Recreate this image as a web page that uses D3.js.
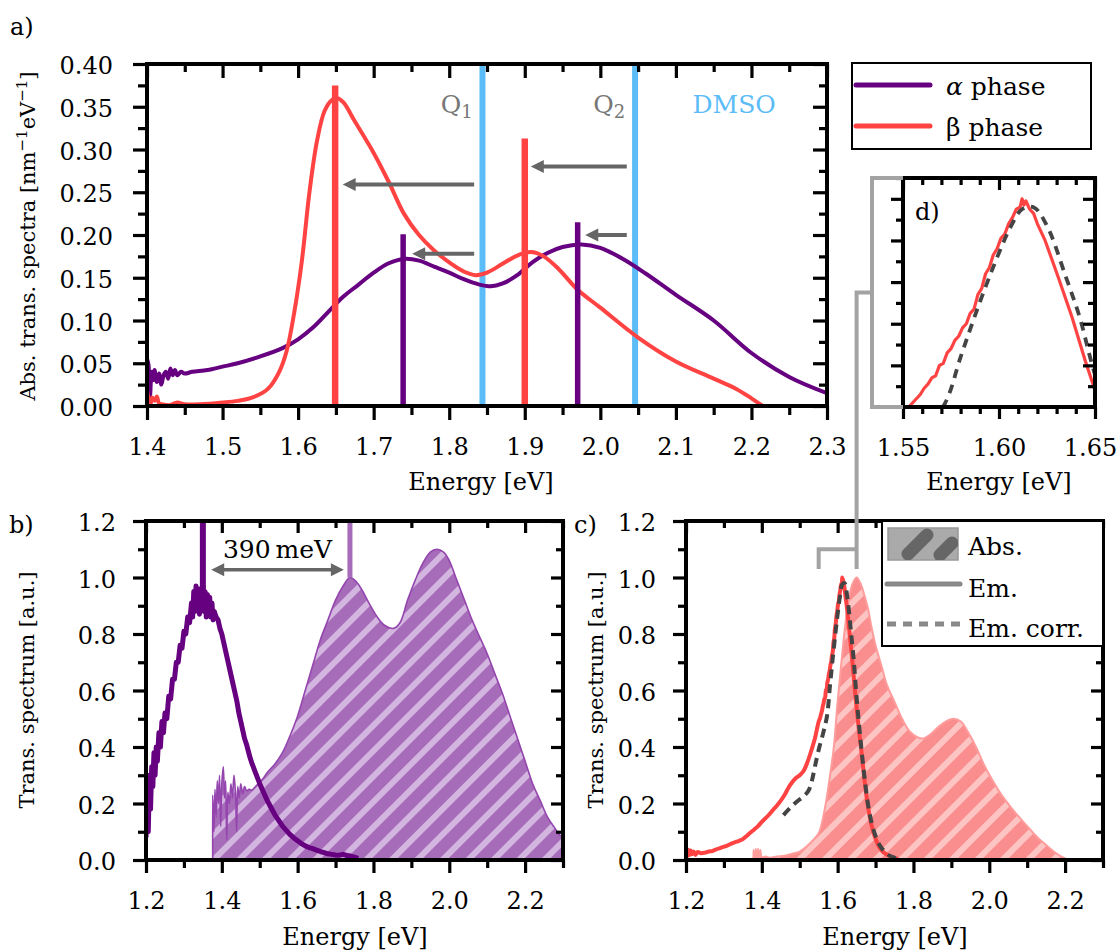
<!DOCTYPE html>
<html><head><meta charset="utf-8">
<script src="https://cdn.jsdelivr.net/npm/d3@7"></script>
<style>body{margin:0;background:#fff}svg{display:block}</style>
</head><body><svg id="chart" width="1117" height="952"></svg>
<script>
// ---------------- DATA ----------------
// Panel a: absolute transition spectra [E (eV), value]
const alphaAbsA = [[1.400,0.055],[1.402,0.048],[1.404,0.012],[1.406,0.040],[1.408,0.030],[1.410,0.042],[1.413,0.028],[1.416,0.038],[1.419,0.025],[1.422,0.036],[1.425,0.040],[1.428,0.032],[1.431,0.044],[1.434,0.036],[1.437,0.042],[1.440,0.036],[1.445,0.040],[1.450,0.038],[1.460,0.040],[1.480,0.042],[1.500,0.046],[1.520,0.050],[1.550,0.058],[1.580,0.068],[1.600,0.078],[1.620,0.092],[1.640,0.110],[1.660,0.128],[1.680,0.142],[1.700,0.156],[1.720,0.167],[1.740,0.172],[1.760,0.170],[1.780,0.163],[1.800,0.156],[1.820,0.148],[1.840,0.142],[1.855,0.140],[1.870,0.143],[1.890,0.153],[1.910,0.168],[1.930,0.179],[1.950,0.186],[1.975,0.189],[2.000,0.185],[2.030,0.172],[2.060,0.155],[2.100,0.130],[2.150,0.100],[2.200,0.062],[2.250,0.034],[2.300,0.015]];
const betaAbsA = [[1.400,0.018],[1.402,0.008],[1.404,0.000],[1.407,0.010],[1.410,0.006],[1.413,0.011],[1.416,0.003],[1.420,0.002],[1.430,0.001],[1.440,0.004],[1.450,0.002],[1.470,0.002],[1.500,0.004],[1.520,0.006],[1.540,0.010],[1.560,0.020],[1.575,0.040],[1.585,0.065],[1.595,0.110],[1.605,0.170],[1.615,0.250],[1.625,0.310],[1.635,0.345],[1.645,0.358],[1.652,0.360],[1.660,0.355],[1.675,0.333],[1.700,0.296],[1.720,0.262],[1.740,0.225],[1.760,0.200],[1.780,0.182],[1.800,0.168],[1.820,0.157],[1.835,0.153],[1.850,0.156],[1.870,0.166],[1.890,0.176],[1.908,0.180],[1.925,0.175],[1.945,0.160],[1.970,0.136],[2.000,0.115],[2.050,0.080],[2.100,0.052],[2.150,0.032],[2.180,0.020],[2.200,0.009],[2.215,0.000]];
const alphaBarsA = [[1.739,0.201],[1.970,0.215]];
const betaBarsA = [[1.649,0.375],[1.900,0.313]];
const dmsoLinesA = [1.844, 2.046];
// arrows: [from E, to E, height]
const shiftArrowsA = [[1.833,1.659,0.259],[1.833,1.751,0.178],[2.035,1.908,0.280],[2.035,1.980,0.200]];
const aXTicks = [1.4,1.5,1.6,1.7,1.8,1.9,2.0,2.1,2.2,2.3];
const aXTickLabels = ["1.4","1.5","1.6","1.7","1.8","1.9","2.0","2.1","2.2","2.3"];
const aXMinor = [1.45,1.55,1.65,1.75,1.85,1.95,2.05,2.15,2.25];
const aYTicks = [0,0.05,0.10,0.15,0.20,0.25,0.30,0.35,0.40];
const aYTickLabels = ["0.00","0.05","0.10","0.15","0.20","0.25","0.30","0.35","0.40"];
const aYMinor = [0.025,0.075,0.125,0.175,0.225,0.275,0.325,0.375];

// Panel b: alpha phase emission and absorption (normalised)
const alphaEmB = [[1.200,0.08],[1.203,0.22],[1.206,0.10],[1.209,0.30],[1.212,0.18],[1.215,0.33],[1.218,0.26],[1.221,0.38],[1.224,0.30],[1.227,0.40],[1.230,0.35],[1.234,0.45],[1.238,0.40],[1.242,0.49],[1.246,0.45],[1.250,0.52],[1.255,0.50],[1.260,0.58],[1.265,0.57],[1.270,0.64],[1.275,0.64],[1.280,0.70],[1.285,0.70],[1.290,0.76],[1.295,0.75],[1.300,0.81],[1.305,0.80],[1.310,0.86],[1.315,0.84],[1.320,0.91],[1.323,0.86],[1.326,0.95],[1.329,0.88],[1.332,0.97],[1.335,0.89],[1.338,0.95],[1.341,0.87],[1.344,0.96],[1.347,0.90],[1.350,0.97],[1.353,0.88],[1.356,0.95],[1.359,0.86],[1.362,0.94],[1.365,0.87],[1.368,0.93],[1.371,0.86],[1.374,0.91],[1.377,0.85],[1.380,0.88],[1.385,0.86],[1.390,0.85],[1.395,0.82],[1.400,0.80],[1.405,0.77],[1.410,0.74],[1.415,0.71],[1.420,0.68],[1.425,0.65],[1.430,0.62],[1.435,0.59],[1.440,0.56],[1.445,0.52],[1.450,0.49],[1.455,0.46],[1.460,0.43],[1.465,0.41],[1.470,0.385],[1.475,0.36],[1.480,0.34],[1.490,0.305],[1.500,0.27],[1.510,0.24],[1.520,0.21],[1.530,0.185],[1.540,0.16],[1.550,0.14],[1.560,0.12],[1.570,0.105],[1.580,0.09],[1.590,0.078],[1.600,0.068],[1.610,0.058],[1.620,0.050],[1.630,0.044],[1.640,0.040],[1.650,0.035],[1.660,0.030],[1.670,0.026],[1.680,0.022],[1.690,0.020],[1.700,0.018],[1.710,0.017],[1.720,0.020],[1.730,0.016],[1.740,0.014],[1.750,0.010],[1.760,0.006]];
const alphaAbsB = [[1.376,0.00],[1.376,0.23],[1.379,0.10],[1.382,0.25],[1.385,0.15],[1.388,0.28],[1.391,0.20],[1.394,0.30],[1.397,0.12],[1.400,0.27],[1.404,0.33],[1.407,0.22],[1.410,0.28],[1.413,0.07],[1.416,0.24],[1.420,0.20],[1.424,0.27],[1.428,0.22],[1.432,0.30],[1.436,0.24],[1.439,0.10],[1.442,0.26],[1.446,0.22],[1.450,0.27],[1.455,0.235],[1.460,0.26],[1.466,0.245],[1.472,0.25],[1.480,0.248],[1.490,0.262],[1.500,0.275],[1.510,0.29],[1.520,0.31],[1.540,0.34],[1.560,0.38],[1.580,0.44],[1.600,0.51],[1.620,0.60],[1.640,0.69],[1.660,0.78],[1.680,0.85],[1.700,0.92],[1.720,0.97],[1.738,1.00],[1.755,0.985],[1.770,0.955],[1.790,0.905],[1.810,0.86],[1.830,0.83],[1.853,0.82],[1.870,0.84],[1.890,0.92],[1.910,0.99],[1.930,1.05],[1.950,1.09],[1.967,1.10],[1.985,1.09],[2.000,1.06],[2.020,0.99],[2.040,0.92],[2.060,0.85],[2.080,0.79],[2.100,0.73],[2.120,0.66],[2.140,0.59],[2.160,0.51],[2.180,0.43],[2.200,0.35],[2.220,0.27],[2.240,0.21],[2.260,0.15],[2.280,0.11],[2.290,0.09],[2.300,0.08],[2.300,0.00]];
const alphaPeaksB = [[1.350,0.90],[1.738,1.00]];   // emission max, absorption max
const stokesArrowB = [1.372, 1.722, 1.027];
const bcXTicks = [1.2,1.4,1.6,1.8,2.0,2.2];
const bcXTickLabels = ["1.2","1.4","1.6","1.8","2.0","2.2"];
const bcXMinor = [1.3,1.5,1.7,1.9,2.1,2.3];
const bcYTicks = [0,0.2,0.4,0.6,0.8,1.0,1.2];
const bcYTickLabels = ["0.0","0.2","0.4","0.6","0.8","1.0","1.2"];
const bcYMinor = [0.1,0.3,0.5,0.7,0.9,1.1];

// Panel c: beta phase
const betaAbsC = [[1.378,0.00],[1.378,0.035],[1.381,0.000],[1.384,0.040],[1.387,0.000],[1.390,0.040],[1.393,0.005],[1.396,0.035],[1.400,0.010],[1.410,0.012],[1.420,0.008],[1.430,0.010],[1.440,0.012],[1.460,0.015],[1.480,0.022],[1.500,0.030],[1.520,0.050],[1.535,0.070],[1.550,0.095],[1.560,0.140],[1.570,0.210],[1.580,0.300],[1.590,0.400],[1.600,0.560],[1.610,0.700],[1.620,0.830],[1.630,0.930],[1.640,0.980],[1.650,1.000],[1.660,0.980],[1.670,0.940],[1.680,0.890],[1.690,0.820],[1.700,0.760],[1.715,0.690],[1.730,0.620],[1.750,0.560],[1.770,0.500],[1.790,0.455],[1.810,0.435],[1.826,0.430],[1.845,0.445],[1.865,0.470],[1.885,0.490],[1.905,0.500],[1.925,0.490],[1.945,0.450],[1.965,0.400],[1.985,0.340],[2.005,0.290],[2.030,0.235],[2.055,0.190],[2.080,0.150],[2.100,0.120],[2.120,0.090],[2.145,0.058],[2.170,0.030],[2.190,0.012],[2.210,0.000]];
const betaEmC = [[1.200,0.030],[1.203,0.012],[1.206,0.036],[1.209,0.018],[1.212,0.034],[1.215,0.020],[1.220,0.030],[1.225,0.018],[1.230,0.028],[1.240,0.024],[1.250,0.026],[1.260,0.030],[1.270,0.032],[1.280,0.038],[1.290,0.042],[1.300,0.047],[1.310,0.052],[1.320,0.058],[1.330,0.063],[1.340,0.068],[1.350,0.074],[1.360,0.085],[1.370,0.097],[1.380,0.108],[1.390,0.120],[1.400,0.135],[1.410,0.148],[1.420,0.162],[1.430,0.178],[1.440,0.193],[1.450,0.210],[1.460,0.230],[1.470,0.255],[1.480,0.275],[1.490,0.290],[1.500,0.300],[1.510,0.315],[1.520,0.345],[1.530,0.385],[1.540,0.430],[1.550,0.490],[1.553,0.500],[1.556,0.515],[1.559,0.530],[1.561,0.545],[1.563,0.555],[1.565,0.570],[1.567,0.575],[1.569,0.600],[1.571,0.605],[1.573,0.630],[1.575,0.640],[1.577,0.660],[1.579,0.670],[1.581,0.690],[1.583,0.700],[1.585,0.725],[1.587,0.735],[1.589,0.770],[1.591,0.785],[1.593,0.820],[1.595,0.835],[1.597,0.865],[1.599,0.880],[1.601,0.905],[1.603,0.915],[1.605,0.940],[1.607,0.955],[1.609,0.975],[1.611,0.980],[1.612,1.000],[1.613,0.985],[1.614,0.995],[1.616,0.975],[1.618,0.965],[1.620,0.940],[1.624,0.900],[1.631,0.810],[1.638,0.716],[1.645,0.610],[1.650,0.540],[1.657,0.450],[1.664,0.370],[1.672,0.270],[1.680,0.190],[1.690,0.120],[1.700,0.075],[1.710,0.045],[1.720,0.028],[1.735,0.015],[1.750,0.007],[1.760,0.003]];
const betaEmCorrC = [[1.457,0.159],[1.475,0.185],[1.492,0.206],[1.510,0.225],[1.523,0.245],[1.532,0.280],[1.540,0.330],[1.550,0.390],[1.562,0.450],[1.572,0.510],[1.580,0.620],[1.588,0.726],[1.597,0.836],[1.606,0.932],[1.612,0.975],[1.618,0.980],[1.625,0.935],[1.635,0.810],[1.642,0.716],[1.648,0.610],[1.655,0.500],[1.663,0.390],[1.672,0.280],[1.681,0.190],[1.690,0.130],[1.700,0.085],[1.712,0.050],[1.725,0.028],[1.740,0.013],[1.760,0.004]];
const zoomRangeC = [1.55, 1.65, 1.10, 1.03];

// Panel d ticks
const dXTicks = [1.55,1.60,1.65];
const dXTickLabels = ["1.55","1.60","1.65"];
const dXMinor = [1.56,1.57,1.58,1.59,1.61,1.62,1.63,1.64];
const dYTicks = [0.6,0.7,0.8,0.9,1.0];
const dYMinor = [0.55,0.65,0.75,0.85,0.95,1.05];

// ---------------- STYLE ----------------
const FONT = '"DejaVu Serif", "Liberation Serif", serif';
const PURPLE = '#660080', RED = '#ff4343', BLUE = '#5bbcf8', ARROW = '#666666', BRK = '#a3a3a3';
const SMOOTH = d3.curveCatmullRom.alpha(0.5);

const svg = d3.select('#chart');
const defs = svg.append('defs');

function hatch(id, base, stripe) {
  const p = defs.append('pattern').attr('id', id).attr('patternUnits', 'userSpaceOnUse')
    .attr('width', 18).attr('height', 18).attr('patternTransform', 'rotate(45)');
  p.append('rect').attr('width', 18).attr('height', 18).attr('fill', base);
  p.append('rect').attr('width', 6).attr('height', 18).attr('fill', stripe);
}
hatch('hatchB', '#a76cb9', '#d3b6df');
hatch('hatchC', '#fa8e8e', '#fdc4c4');

function clipFor(id, x, y) {
  const [x0, x1] = x.range(), [y0, y1] = y.range();
  defs.append('clipPath').attr('id', id).append('rect')
    .attr('x', x0).attr('y', y1).attr('width', x1 - x0).attr('height', y0 - y1);
}

function drawAxes(g, x, y, o) {
  const [xl, xr] = x.range(), [yb, yt] = y.range();
  const none = () => '';
  const style = sel => {
    sel.select('.domain').remove();
    sel.selectAll('line').attr('stroke', '#000').attr('stroke-width', 3.2);
    sel.attr('font-family', FONT).attr('font-size', 24);
    sel.selectAll('text').attr('fill', '#000');
  };
  const xb = g.append('g').attr('transform', `translate(0,${yb})`)
    .call(d3.axisBottom(x).tickValues(o.xMaj).tickSize(o.outMaj).tickPadding(o.xPad)
      .tickFormat(o.xLab ? (d, i) => o.xLab[i] : none)).call(style);
  if (o.lastDx) xb.selectAll('text').filter((d, i) => i === o.xMaj.length - 1).attr('dx', o.lastDx);
  g.append('g').attr('transform', `translate(0,${yb})`)
    .call(d3.axisBottom(x).tickValues(o.xMin).tickSize(o.outMin).tickFormat(none)).call(style);
  g.append('g').attr('transform', `translate(0,${yt})`)
    .call(d3.axisTop(x).tickValues(o.xMaj).tickSize(-o.inMaj).tickFormat(none)).call(style);
  g.append('g').attr('transform', `translate(0,${yt})`)
    .call(d3.axisTop(x).tickValues(o.xMin).tickSize(-o.inMin).tickFormat(none)).call(style);
  g.append('g').attr('transform', `translate(${xl},0)`)
    .call(d3.axisLeft(y).tickValues(o.yMaj).tickSize(o.outMaj).tickPadding(o.yPad)
      .tickFormat(o.yLab ? (d, i) => o.yLab[i] : none)).call(style)
    .selectAll('text').attr('dy', '0.40em');
  g.append('g').attr('transform', `translate(${xl},0)`)
    .call(d3.axisLeft(y).tickValues(o.yMin).tickSize(o.outMin).tickFormat(none)).call(style);
  g.append('g').attr('transform', `translate(${xr},0)`)
    .call(d3.axisRight(y).tickValues(o.yMaj).tickSize(-o.inMaj).tickFormat(none)).call(style);
  g.append('g').attr('transform', `translate(${xr},0)`)
    .call(d3.axisRight(y).tickValues(o.yMin).tickSize(-o.inMin).tickFormat(none)).call(style);
  g.append('rect').attr('x', xl).attr('y', yt).attr('width', xr - xl).attr('height', yb - yt)
    .attr('fill', 'none').attr('stroke', '#000').attr('stroke-width', 4);
}

function txt(g, x, y, s, size, anchor, fill) {
  return g.append('text').attr('x', x).attr('y', y).text(s)
    .attr('font-family', FONT).attr('font-size', size || 24)
    .attr('text-anchor', anchor || 'start').attr('fill', fill || '#000');
}

function arrowLeft(g, x1, x2, y, col) {
  const hl = 13, hw = 6.5;
  g.append('line').attr('x1', x1).attr('x2', x2 + hl - 1).attr('y1', y).attr('y2', y)
    .attr('stroke', col).attr('stroke-width', 4);
  g.append('path').attr('d', `M${x2},${y}L${x2 + hl},${y - hw}L${x2 + hl},${y + hw}Z`).attr('fill', col);
}
function arrowRight(g, x1, x2, y, col) {
  const hl = 13, hw = 6.5;
  g.append('path').attr('d', `M${x2},${y}L${x2 - hl},${y - hw}L${x2 - hl},${y + hw}Z`).attr('fill', col);
}

// ---------------- PANEL A ----------------
const ax = d3.scaleLinear().domain([1.4, 2.3]).range([147, 827]);
const ay = d3.scaleLinear().domain([0, 0.4]).range([406, 64]);
clipFor('clipA', ax, ay);
const ga = svg.append('g');
const pa = ga.append('g').attr('clip-path', 'url(#clipA)');
pa.selectAll('line.dmso').data(dmsoLinesA).join('line').attr('class', 'dmso')
  .attr('x1', d => ax(d)).attr('x2', d => ax(d)).attr('y1', ay(0)).attr('y2', ay(0.4))
  .attr('stroke', BLUE).attr('stroke-width', 6);
const lineA = d3.line().curve(SMOOTH).x(d => ax(d[0])).y(d => ay(d[1]));
pa.append('path').datum(alphaAbsA).attr('d', lineA).attr('fill', 'none')
  .attr('stroke', PURPLE).attr('stroke-width', 4).attr('stroke-linejoin', 'round');
pa.append('path').datum(betaAbsA).attr('d', lineA).attr('fill', 'none')
  .attr('stroke', RED).attr('stroke-width', 4).attr('stroke-linejoin', 'round');
pa.selectAll('line.ab').data(alphaBarsA).join('line').attr('class', 'ab')
  .attr('x1', d => ax(d[0])).attr('x2', d => ax(d[0])).attr('y1', ay(0)).attr('y2', d => ay(d[1]))
  .attr('stroke', PURPLE).attr('stroke-width', 5.5);
pa.selectAll('line.bb').data(betaBarsA).join('line').attr('class', 'bb')
  .attr('x1', d => ax(d[0])).attr('x2', d => ax(d[0])).attr('y1', ay(0)).attr('y2', d => ay(d[1]))
  .attr('stroke', RED).attr('stroke-width', 6.5);
shiftArrowsA.forEach(a => arrowLeft(ga, ax(a[0]), ax(a[1]), ay(a[2]), ARROW));
const q1 = txt(ga, ax(1.831), ay(0.343), 'Q', 25, 'end', '#777');
q1.append('tspan').attr('font-size', 18).attr('dy', 5).text('1');
const q2 = txt(ga, ax(2.033), ay(0.343), 'Q', 25, 'end', '#777');
q2.append('tspan').attr('font-size', 18).attr('dy', 5).text('2');
txt(ga, ax(2.122), ay(0.343), 'DMSO', 25, 'start', BLUE);
drawAxes(ga, ax, ay, { xMaj: aXTicks, xMin: aXMinor, yMaj: aYTicks, yMin: aYMinor,
  xLab: aXTickLabels, yLab: aYTickLabels, outMaj: 14, outMin: 9, inMaj: 14, inMin: 8, xPad: 18, yPad: 20 });
txt(ga, 481, 490, 'Energy [eV]', 24, 'middle');
const ylA = ga.append('text').attr('transform', 'translate(35,236) rotate(-90)')
  .attr('font-family', FONT).attr('font-size', 21).attr('text-anchor', 'middle');
ylA.append('tspan').text('Abs. trans. spectra [nm');
ylA.append('tspan').attr('font-size', 15).attr('dy', -8).text('\u22121');
ylA.append('tspan').attr('dy', 8).text('eV');
ylA.append('tspan').attr('font-size', 15).attr('dy', -8).text('\u22121');
ylA.append('tspan').attr('dy', 8).text(']');
txt(svg, 10, 35, 'a)', 24);

// legend a
const lg = svg.append('g');
lg.append('rect').attr('x', 852).attr('y', 63).attr('width', 239).attr('height', 86)
  .attr('fill', '#fff').attr('stroke', '#000').attr('stroke-width', 2);
lg.append('line').attr('x1', 856).attr('x2', 930).attr('y1', 85).attr('y2', 85)
  .attr('stroke', PURPLE).attr('stroke-width', 5).attr('stroke-linecap', 'round');
lg.append('line').attr('x1', 856).attr('x2', 930).attr('y1', 126).attr('y2', 126)
  .attr('stroke', RED).attr('stroke-width', 5).attr('stroke-linecap', 'round');
const la = txt(lg, 946, 95, '', 25);
la.append('tspan').attr('font-style', 'italic').text('\u03B1');
la.append('tspan').text(' phase');
txt(lg, 946, 136, '\u03B2 phase', 25);

// ---------------- PANEL D ----------------
const dx = d3.scaleLinear().domain([1.55, 1.65]).range([903, 1095]);
const dy = d3.scaleLinear().domain([0.5, 1.05]).range([407, 178]);
clipFor('clipD', dx, dy);
const gd = svg.append('g');
const pd = gd.append('g').attr('clip-path', 'url(#clipD)');
const lineD = d3.line().x(d => dx(d[0])).y(d => dy(d[1]));
pd.append('path').datum(betaEmC).attr('d', lineD).attr('fill', 'none')
  .attr('stroke', RED).attr('stroke-width', 3.2).attr('stroke-linejoin', 'round');
pd.append('path').datum(betaEmCorrC).attr('d', lineD.curve(SMOOTH)).attr('fill', 'none')
  .attr('stroke', '#444').attr('stroke-width', 3.8).attr('stroke-dasharray', '9 7');
drawAxes(gd, dx, dy, { xMaj: dXTicks, xMin: dXMinor, yMaj: dYTicks, yMin: dYMinor,
  xLab: dXTickLabels, yLab: null, outMaj: 12, outMin: 7, inMaj: 12, inMin: 7, xPad: 20, yPad: 10, lastDx: -5 });
txt(gd, 999, 490, 'Energy [eV]', 24, 'middle');
txt(gd, 915, 220, 'd)', 24);

// ---------------- PANEL B ----------------
const bx = d3.scaleLinear().domain([1.2, 2.3]).range([146, 563]);
const by = d3.scaleLinear().domain([0, 1.2]).range([860, 521]);
clipFor('clipB', bx, by);
const gb = svg.append('g');
const pb = gb.append('g').attr('clip-path', 'url(#clipB)');
pb.append('path').datum(alphaAbsB)
  .attr('d', d3.area().curve(SMOOTH).x(d => bx(d[0])).y0(by(0)).y1(d => by(d[1])))
  .attr('fill', 'url(#hatchB)');
pb.append('path').datum(alphaAbsB).attr('d', d3.line().curve(SMOOTH).x(d => bx(d[0])).y(d => by(d[1])))
  .attr('fill', 'none').attr('stroke', '#9446ae').attr('stroke-width', 1.6).attr('stroke-linejoin', 'round');
pb.append('path').datum(alphaEmB).attr('d', d3.line().x(d => bx(d[0])).y(d => by(d[1])))
  .attr('fill', 'none').attr('stroke', PURPLE).attr('stroke-width', 5).attr('stroke-linejoin', 'round');
pb.append('line').attr('x1', bx(alphaPeaksB[0][0])).attr('x2', bx(alphaPeaksB[0][0]))
  .attr('y1', by(1.2)).attr('y2', by(alphaPeaksB[0][1])).attr('stroke', PURPLE).attr('stroke-width', 6);
pb.append('line').attr('x1', bx(alphaPeaksB[1][0])).attr('x2', bx(alphaPeaksB[1][0]))
  .attr('y1', by(1.2)).attr('y2', by(alphaPeaksB[1][1])).attr('stroke', '#a76cb9').attr('stroke-width', 5);
{
  const x1 = bx(stokesArrowB[0]), x2 = bx(stokesArrowB[1]), yy = by(stokesArrowB[2]);
  gb.append('line').attr('x1', x1 + 12).attr('x2', x2 - 12).attr('y1', yy).attr('y2', yy)
    .attr('stroke', ARROW).attr('stroke-width', 3.5);
  arrowLeft(gb, x1 + 12, x1, yy, ARROW);
  arrowRight(gb, x2 - 12, x2, yy, ARROW);
  txt(gb, (x1 + x2) / 2, by(1.069), '390\u2009meV', 25, 'middle');
}
drawAxes(gb, bx, by, { xMaj: bcXTicks, xMin: bcXMinor, yMaj: bcYTicks, yMin: bcYMinor,
  xLab: bcXTickLabels, yLab: bcYTickLabels, outMaj: 13, outMin: 8, inMaj: 12, inMin: 7, xPad: 19, yPad: 17 });
txt(gb, 355, 945, 'Energy [eV]', 24, 'middle');
gb.append('text').attr('transform', 'translate(34,690) rotate(-90)').attr('font-family', FONT)
  .attr('font-size', 21).attr('text-anchor', 'middle').text('Trans. spectrum [a.u.]');
txt(svg, 9, 533, 'b)', 24);

// ---------------- PANEL C ----------------
const cx = d3.scaleLinear().domain([1.2, 2.3]).range([686, 1103]);
const cy = d3.scaleLinear().domain([0, 1.2]).range([860, 521]);
clipFor('clipC', cx, cy);
const gc = svg.append('g');
const pc = gc.append('g').attr('clip-path', 'url(#clipC)');
pc.append('path').datum(betaAbsC)
  .attr('d', d3.area().curve(SMOOTH).x(d => cx(d[0])).y0(cy(0)).y1(d => cy(d[1])))
  .attr('fill', 'url(#hatchC)');
pc.append('path').datum(betaAbsC).attr('d', d3.line().curve(SMOOTH).x(d => cx(d[0])).y(d => cy(d[1])))
  .attr('fill', 'none').attr('stroke', '#ff9c9c').attr('stroke-width', 2).attr('stroke-linejoin', 'round');
pc.append('path').datum(betaEmC).attr('d', d3.line().curve(SMOOTH).x(d => cx(d[0])).y(d => cy(d[1])))
  .attr('fill', 'none').attr('stroke', RED).attr('stroke-width', 4).attr('stroke-linejoin', 'round');
pc.append('path').datum(betaEmCorrC).attr('d', d3.line().curve(SMOOTH).x(d => cx(d[0])).y(d => cy(d[1])))
  .attr('fill', 'none').attr('stroke', '#444').attr('stroke-width', 4).attr('stroke-dasharray', '9 6');
drawAxes(gc, cx, cy, { xMaj: bcXTicks, xMin: bcXMinor, yMaj: bcYTicks, yMin: bcYMinor,
  xLab: bcXTickLabels, yLab: bcYTickLabels, outMaj: 13, outMin: 8, inMaj: 12, inMin: 7, xPad: 19, yPad: 17 });
txt(gc, 895, 945, 'Energy [eV]', 24, 'middle');
gc.append('text').attr('transform', 'translate(603,690) rotate(-90)').attr('font-family', FONT)
  .attr('font-size', 21).attr('text-anchor', 'middle').text('Trans. spectrum [a.u.]');
txt(svg, 574, 533, 'c)', 24);

// legend c
const lc = svg.append('g');
lc.append('rect').attr('x', 882).attr('y', 521).attr('width', 221).attr('height', 125)
  .attr('fill', '#fff').attr('stroke', '#000').attr('stroke-width', 2);
defs.append('clipPath').attr('id', 'clipSw').append('rect').attr('x', 888).attr('y', 528).attr('width', 70).attr('height', 32);
lc.append('rect').attr('x', 888).attr('y', 528).attr('width', 70).attr('height', 32)
  .attr('fill', '#aaaaaa').attr('stroke', '#999').attr('stroke-width', 1.5);
const sw = lc.append('g').attr('clip-path', 'url(#clipSw)');
sw.append('line').attr('x1', 908).attr('y1', 554).attr('x2', 927).attr('y2', 535)
  .attr('stroke', '#666').attr('stroke-width', 13).attr('stroke-linecap', 'round');
sw.append('line').attr('x1', 940).attr('y1', 555).attr('x2', 952).attr('y2', 543)
  .attr('stroke', '#666').attr('stroke-width', 13).attr('stroke-linecap', 'round');
txt(lc, 968, 555, 'Abs.', 25);
lc.append('line').attr('x1', 887).attr('x2', 960).attr('y1', 584).attr('y2', 584)
  .attr('stroke', '#888').attr('stroke-width', 5).attr('stroke-linecap', 'round');
txt(lc, 968, 597, 'Em.', 25);
lc.append('line').attr('x1', 887).attr('x2', 960).attr('y1', 624).attr('y2', 624)
  .attr('stroke', '#888').attr('stroke-width', 5).attr('stroke-dasharray', '9 7');
txt(lc, 968, 637, 'Em. corr.', 25);

// ---------------- ZOOM CONNECTOR ----------------
const brk = svg.append('g').attr('fill', 'none').attr('stroke', BRK).attr('stroke-width', 4);
const dMid = (dy.range()[0] + dy.range()[1]) / 2;
brk.append('path').attr('d', `M${dx.range()[0]},${dy.range()[1]}H872V${dy.range()[0]}H${dx.range()[0]}`);
brk.append('path').attr('d', `M872,${dMid}H${cx(zoomRangeC[1])}V${cy(zoomRangeC[3])}`);
brk.append('path').attr('d', `M${cx(zoomRangeC[0])},${cy(zoomRangeC[3])}V${cy(zoomRangeC[2])}H${cx(zoomRangeC[1])}`);
</script></body></html>
